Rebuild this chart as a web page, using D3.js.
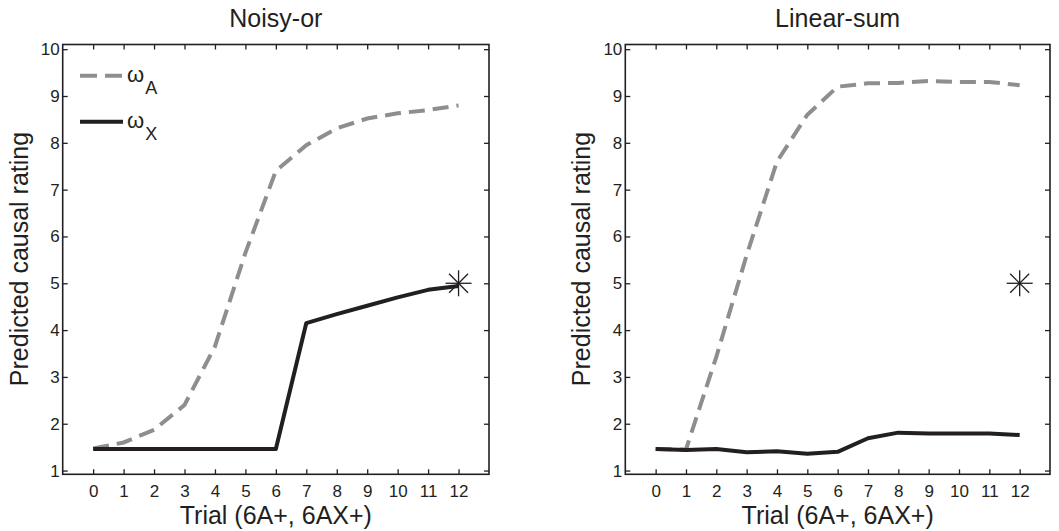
<!DOCTYPE html>
<html>
<head>
<meta charset="utf-8">
<script src="https://cdn.jsdelivr.net/npm/d3@7"></script>
<style>
  body { margin: 0; background: #fff; }
  svg { display: block; font-family: "Liberation Sans", Arial, Helvetica, sans-serif; }
</style>
</head>
<body>
<svg id="chart" width="1059" height="531"></svg>
<script>
// ---- data ----
const trials = [0, 1, 2, 3, 4, 5, 6, 7, 8, 9, 10, 11, 12];
const xTickLabels = ["0","1","2","3","4","5","6","7","8","9","10","11","12"];
const yTicks = [1, 2, 3, 4, 5, 6, 7, 8, 9, 10];
const panelTitles = ["Noisy-or", "Linear-sum"];
const legendLabels = ["A", "X"];

const noisyOrA = [1.47, 1.6, 1.87, 2.4, 3.65, 5.65, 7.4, 7.95, 8.31, 8.52, 8.63, 8.70, 8.80];
const noisyOrX = [1.46, 1.46, 1.46, 1.46, 1.46, 1.46, 1.46, 4.15, 4.34, 4.52, 4.70, 4.86, 4.94];
const linearSumA = [1.46, 1.45, 3.43, 5.6, 7.6, 8.6, 9.2, 9.27, 9.28, 9.32, 9.3, 9.3, 9.23];
const linearSumX = [1.46, 1.44, 1.46, 1.39, 1.41, 1.36, 1.40, 1.69, 1.81, 1.79, 1.79, 1.79, 1.76];
const observed = [{ trial: 12, rating: 5 }];

const panels = [
  { title: panelTitles[0], A: noisyOrA, X: noisyOrX, left: 62.7, right: 489, legend: true, ylabX: 28 },
  { title: panelTitles[1], A: linearSumA, X: linearSumX, left: 625.3, right: 1050, legend: false, ylabX: 590 }
];

const plotTop = 44.5, plotBottom = 474.3;
const svg = d3.select("#chart");
const ink = "#231f20";
const grayCol = "#8e8e90";
const fontFam = '"Liberation Sans", Arial, Helvetica, sans-serif';

panels.forEach(p => {
  const x = d3.scaleLinear().domain([-1, 13]).range([p.left, p.right]);
  const y = d3.scaleLinear().domain([0.92, 10.1]).range([plotBottom, plotTop]);
  const g = svg.append("g");

  // lines
  const line = d3.line().x((d, i) => x(trials[i])).y(d => y(d));
  g.append("path").datum(p.A).attr("d", line)
    .attr("fill", "none").attr("stroke", grayCol).attr("stroke-width", 4)
    .attr("stroke-dasharray", "16,8");
  g.append("path").datum(p.X).attr("d", line)
    .attr("fill", "none").attr("stroke", ink).attr("stroke-width", 4)
    .attr("stroke-linejoin", "round");

  // observed star
  observed.forEach(o => {
    const cx = x(o.trial), cy = y(o.rating);
    const s = g.append("g").attr("stroke", ink).attr("stroke-width", 1.3);
    s.append("line").attr("x1", cx - 13).attr("x2", cx + 13).attr("y1", cy).attr("y2", cy);
    s.append("line").attr("x1", cx).attr("x2", cx).attr("y1", cy - 13).attr("y2", cy + 13);
    s.append("line").attr("x1", cx - 9.5).attr("x2", cx + 9.5).attr("y1", cy - 9.5).attr("y2", cy + 9.5);
    s.append("line").attr("x1", cx - 9.5).attr("x2", cx + 9.5).attr("y1", cy + 9.5).attr("y2", cy - 9.5);
  });

  // axes (ticks inside, on all sides)
  const xb = g.append("g").attr("transform", `translate(0,${plotBottom})`)
    .call(d3.axisBottom(x).tickValues(trials).tickFormat((d, i) => xTickLabels[i]).tickSizeInner(-5).tickSizeOuter(0).tickPadding(10.5));
  const xt = g.append("g").attr("transform", `translate(0,${plotTop})`)
    .call(d3.axisTop(x).tickValues(trials).tickFormat("").tickSizeInner(-5).tickSizeOuter(0));
  const yl = g.append("g").attr("transform", `translate(${p.left},0)`)
    .call(d3.axisLeft(y).tickValues(yTicks).tickSizeInner(-5).tickSizeOuter(0).tickPadding(8));
  const yr = g.append("g").attr("transform", `translate(${p.right},0)`)
    .call(d3.axisRight(y).tickValues(yTicks).tickFormat("").tickSizeInner(-5).tickSizeOuter(0));
  [xb, xt, yl, yr].forEach(a => {
    a.attr("font-family", fontFam).attr("font-size", 17);
    a.select(".domain").remove();
    a.selectAll(".tick line").attr("stroke", ink).attr("stroke-width", 1.3);
    a.selectAll(".tick text").attr("fill", ink);
  });
  xb.selectAll(".tick text").attr("dy", "0.71em");
  yl.selectAll(".tick text").attr("dx", "5");

  // box
  g.append("rect").attr("x", p.left).attr("y", plotTop)
    .attr("width", p.right - p.left).attr("height", plotBottom - plotTop)
    .attr("fill", "none").attr("stroke", ink).attr("stroke-width", 1.6);

  const cx = (p.left + p.right) / 2;
  g.append("text").attr("x", cx).attr("y", 27).attr("text-anchor", "middle")
    .attr("fill", ink).style("font-size", "25px").text(p.title);
  g.append("text").attr("x", cx).attr("y", 523.5).attr("text-anchor", "middle")
    .attr("fill", ink).style("font-size", "25px").text("Trial (6A+, 6AX+)");
  g.append("text").attr("transform", `translate(${p.ylabX},259) rotate(-90)`).attr("text-anchor", "middle")
    .attr("fill", ink).style("font-size", "25px").text("Predicted causal rating");

  if (p.legend) {
    const entries = [
      { col: grayCol, dash: "17,8", ly: 75.7, sub: legendLabels[0] },
      { col: ink, dash: null, ly: 121.7, sub: legendLabels[1] }
    ];
    entries.forEach(e => {
      g.append("line").attr("x1", 80).attr("x2", 123).attr("y1", e.ly).attr("y2", e.ly)
        .attr("stroke", e.col).attr("stroke-width", 4)
        .attr("stroke-dasharray", e.dash);
      const t = g.append("text").attr("x", 127).attr("y", e.ly + 6).attr("fill", ink).style("font-size", "22px");
      t.append("tspan").text("ω");
      t.append("tspan").attr("dy", 12).attr("dx", 1).style("font-size", "18px").text(e.sub);
    });
  }
});
</script>
</body>
</html>
